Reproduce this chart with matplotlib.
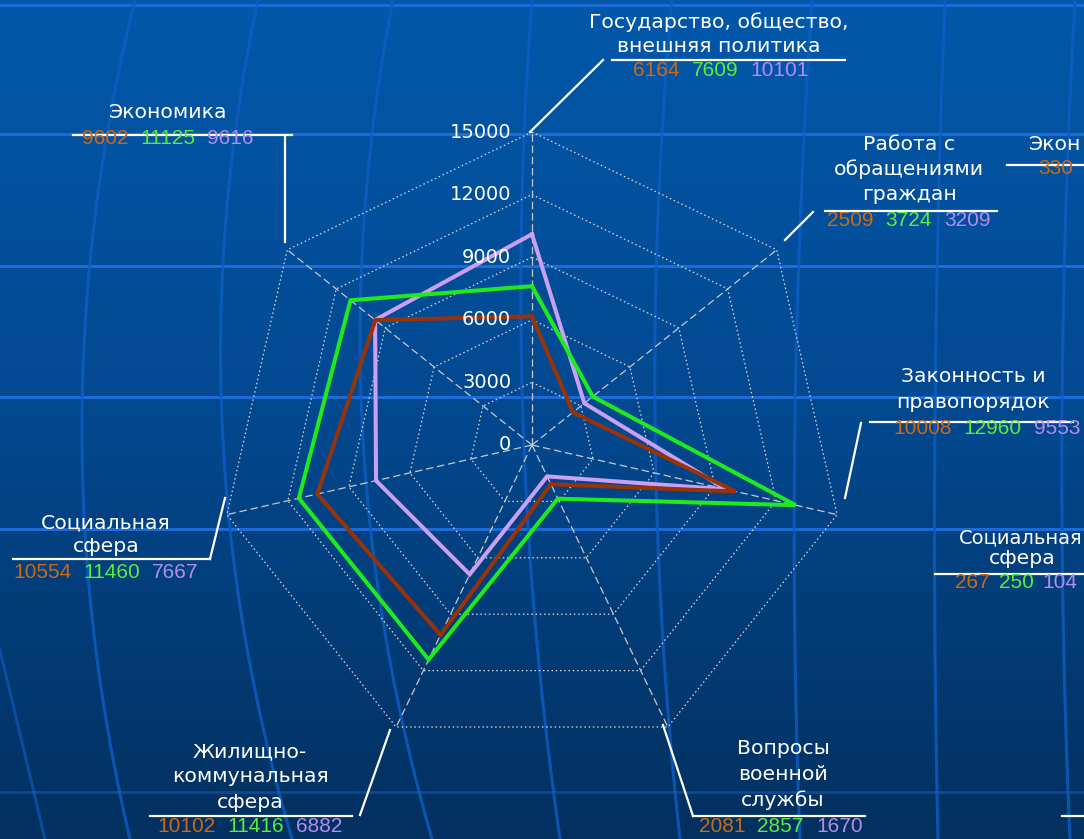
import numpy as np
import matplotlib
matplotlib.use('Agg')
import matplotlib.pyplot as plt
from matplotlib.colors import LinearSegmentedColormap

# categories (clockwise from the top) and the three series
categories = ['Государство, общество,\nвнешняя политика',
              'Работа с\nобращениями\nграждан',
              'Законность и\nправопорядок',
              'Вопросы\nвоенной\nслужбы',
              'Жилищно-\nкоммунальная\nсфера',
              'Социальная\nсфера',
              'Экономика']
series_1 = [6164, 2509, 10008, 2081, 10102, 10554, 9602]
series_2 = [7609, 3724, 12960, 2857, 11416, 11460, 11125]
series_3 = [10101, 3209, 9553, 1670, 6882, 7667, 9616]
radial_ticks = [0, 3000, 6000, 9000, 12000, 15000]

line_colors = ['#9A3208', '#1EEB1E', '#CBA0F2']
num_colors = ['#CC6A14', '#55F03A', '#B48CF0']

W, H = 1084, 839
fig = plt.figure(figsize=(W / 100, H / 100), dpi=100)


def px(x, y):
    # pixel position (from top-left) -> figure fraction
    return x / W, 1 - y / H


# ---- background: blue gradient with a globe-like grid
bg = fig.add_axes([0, 0, 1, 1])
bg.set_xlim(0, W)
bg.set_ylim(H, 0)
bg.axis('off')
cmap = LinearSegmentedColormap.from_list('bg', ['#0358AA', '#02488F', '#03305F'])
bg.imshow(np.linspace(0, 1, 256).reshape(-1, 1), extent=(0, W, H, 0),
          aspect='auto', cmap=cmap, zorder=0)
for yy in [5, 134, 266, 397, 529]:
    bg.axhline(yy, color='#1C6BD6', lw=2.2, zorder=1)
bg.axhline(792, color='#0B4A98', lw=2.0, zorder=1)
meridians = [[135, 82, 130], [258, 222, 292], [393, 362, 432], [532, 523, 560],
             [672, 655, 680], [812, 795, 800], [945, 935, 938], [1075, 1062, 1070]]
yy = np.linspace(0, H, 100)
for m in meridians:
    coef = np.polyfit([0, 420, H], m, 2)
    bg.plot(np.polyval(coef, yy), yy, color='#0D5EC4', lw=2.2, alpha=0.8, zorder=1)
bg.plot([0, 45], [650, H], color='#0D5EC4', lw=2.2, alpha=0.6, zorder=1)

# ---- radar chart (equal scale, centre at pixel 532,445; 15000 -> 313 px)
cx, cy, R = 532, 445, 313
u = 15000 / R
ax = fig.add_axes([0, 0, 1, 1])
ax.set_xlim(-cx * u, (W - cx) * u)
ax.set_ylim(-(H - cy) * u, cy * u)
ax.axis('off')
ax.patch.set_alpha(0)

n = len(categories)
ang = np.pi / 2 - np.arange(n) * 2 * np.pi / n
ang_c = np.append(ang, ang[0])

for r in radial_ticks[1:]:
    ax.plot(r * np.cos(ang_c), r * np.sin(ang_c), color='#DDDDDD', lw=0.9,
            ls=(0, (1.2, 2.2)), zorder=2)
for a in ang:
    ax.plot([0, radial_ticks[-1] * np.cos(a)], [0, radial_ticks[-1] * np.sin(a)],
            color='#C8C8C8', lw=0.9, ls=(0, (6, 3)), zorder=2)
for t in radial_ticks:
    ax.annotate(str(t), (0, t), xytext=(-15, 0), textcoords='offset points',
                ha='right', va='center', color='white', fontsize=14, zorder=5)

for vals, col in [(series_3, line_colors[2]), (series_1, line_colors[0]),
                  (series_2, line_colors[1])]:
    v = np.append(vals, vals[0])
    ax.plot(v * np.cos(ang_c), v * np.sin(ang_c), color=col, lw=2.9,
            solid_joinstyle='miter', zorder=4)

# ---- category labels with leader lines and the three values
layout = [
    dict(cx=719, ys=[22, 47], ul=(612, 845, 60), nx=633, ny=71,
         lead=[(530, 132), (603, 60)]),
    dict(cx=909, ys=[145, 169, 194], ul=(825, 997, 211), nx=827, ny=221,
         lead=[(785, 240), (813, 212)]),
    dict(cx=973, ys=[377, 402], ul=(870, 1073, 422), nx=893, ny=428,
         lead=[(845, 498), (861, 423)]),
    dict(cx=783, ys=[748, 774, 800], ul=(693, 865, 816), nx=699, ny=826,
         lead=[(663, 725), (693, 816)]),
    dict(cx=250, ys=[752, 777, 802], ul=(150, 352, 816), nx=157, ny=827,
         lead=[(390, 730), (360, 815)]),
    dict(cx=106, ys=[523, 547], ul=(13, 210, 559), nx=13, ny=572,
         lead=[(225, 498), (210, 559)]),
    dict(cx=168, ys=[113], ul=(73, 292, 135), nx=82, ny=139,
         lead=[(285, 242), (285, 135)]),
]

renderer = fig.canvas.get_renderer()


def number_row(x, y, vals, gap=12):
    for v, c in zip(vals, num_colors):
        t = fig.text(*px(x, y), str(v), color=c, fontsize=15,
                     family='Liberation Sans', ha='left', va='center', zorder=6)
        bb = t.get_window_extent(renderer)
        x = bb.x1 + gap


for i, (name, lay) in enumerate(zip(categories, layout)):
    for line, yl in zip(name.split('\n'), lay['ys']):
        fig.text(*px(lay['cx'], yl), line, color='white', fontsize=14.7,
                 ha='center', va='center')
    x0, x1, yu = lay['ul']
    bg.plot([x0, x1], [yu, yu], color='white', lw=1.6, zorder=3)
    (ax0, ay0), (ax1, ay1) = lay['lead']
    bg.plot([ax0, ax1], [ay0, ay1], color='white', lw=1.6, zorder=3)
    number_row(lay['nx'], lay['ny'], [series_1[i], series_2[i], series_3[i]])

# pieces of the neighbouring chart at the right edge
fig.text(*px(1081, 145), 'Экон', color='white', fontsize=14.7, ha='right', va='center')
bg.plot([1007, W], [165, 165], color='white', lw=1.6, zorder=3)
number_row(1038, 168, [330])
fig.text(*px(1082, 538), 'Социальная', color='white', fontsize=14, ha='right', va='center')
fig.text(*px(1022, 558), 'сфера', color='white', fontsize=14.7, ha='center', va='center')
bg.plot([935, W], [574, 574], color='white', lw=1.6, zorder=3)
number_row(955, 583, [267, 250, 104], gap=9)
bg.plot([1062, W], [816, 816], color='white', lw=1.6, zorder=3)

fig.savefig('out.png', dpi=100)
